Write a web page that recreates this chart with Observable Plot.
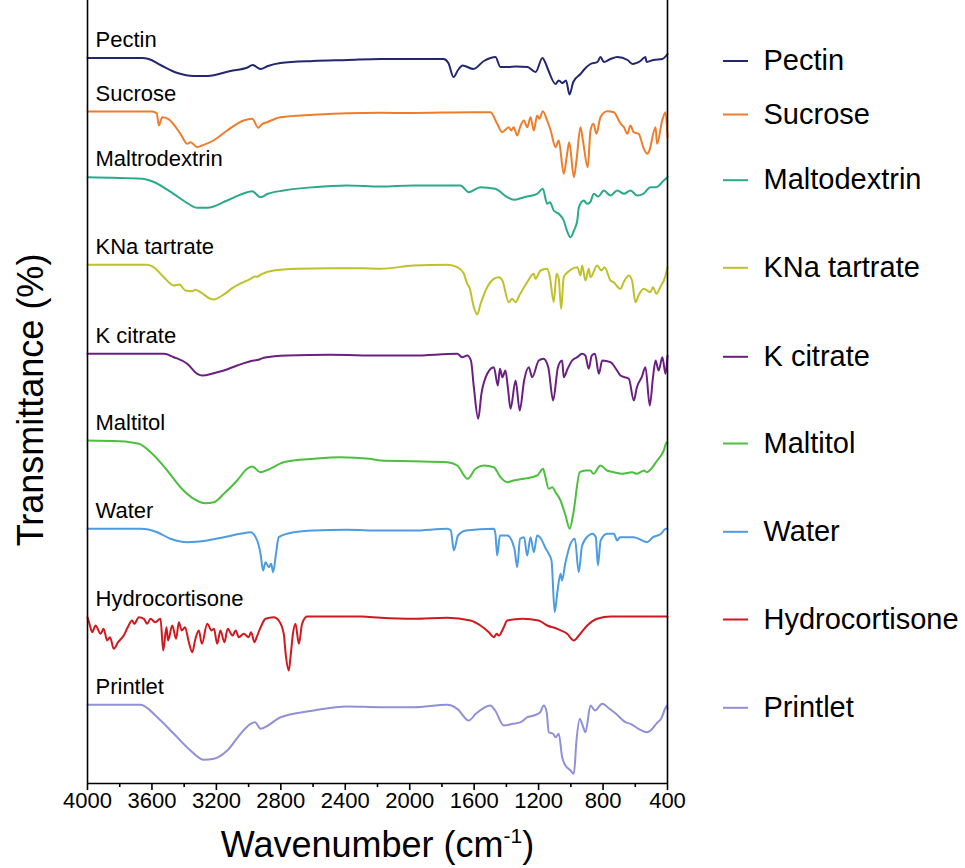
<!DOCTYPE html>
<html>
<head>
<meta charset="utf-8">
<script src="https://cdn.jsdelivr.net/npm/d3@7"></script>
<script src="https://cdn.jsdelivr.net/npm/@observablehq/plot@0.6"></script>
<style>
  html, body { margin: 0; padding: 0; background: #fff; }
  #chart { width: 965px; height: 868px; }
</style>
</head>
<body>
<div id="chart"></div>
<script>
// ---- DATA ----
const seriesNames = ["Pectin", "Sucrose", "Maltodextrin", "KNa tartrate", "K citrate", "Maltitol", "Water", "Hydrocortisone", "Printlet"];
const panelLabels = ["Pectin", "Sucrose", "Maltrodextrin", "KNa tartrate", "K citrate", "Maltitol", "Water", "Hydrocortisone", "Printlet"];
// vertical offset of each stacked spectrum (arbitrary transmittance units)
const offsets = [725.5, 672, 606.3, 518.7, 429.7, 343, 254.7, 167, 78.7];

// [wavenumber (cm-1), relative transmittance]
const pectin = [[4000,0],[3660,0],[3620,-1],[3547,-7],[3441,-15],[3342,-18],[3255,-18],[3112,-13],[3007,-9.5],[2976,-7],[2926,-11],[2880,-8],[2802,-5],[2600,-3],[2386,-2],[2181,-1],[1790,-1],[1760,-5],[1728,-19],[1700,-12],[1672,-7.5],[1604,-11],[1540,-3],[1499,0],[1468,1],[1437,-9],[1393,-9],[1340,-8.5],[1269,-9],[1219,-14],[1176,0],[1160,-4],[1139,-12.5],[1095,-26],[1075,-22.5],[1052,-25],[1030,-22.5],[1008,-36.5],[985,-24],[940,-16],[920,-12],[878,-6],[835,-4],[816,1],[795,-4],[754,-1],[711,1],[648,-2],[617,-6],[568,-3],[537,1],[530,-4],[487,-2],[432,-1],[400,4]];
const sucrose = [[4000,0],[3598,0],[3570,-2],[3557,-14],[3536,-5.7],[3500,-7.3],[3423,-22.3],[3381,-32.3],[3360,-30.7],[3319,-35.7],[3290,-34],[3218,-29],[3133,-19],[3031,-9],[2978,-7.3],[2939,-16.3],[2920,-13],[2885,-10.7],[2802,-5.7],[2597,-3.3],[2388,-1.7],[2181,-1.3],[2000,-1.5],[1600,-0.7],[1499,-0.7],[1457,-12.3],[1426,-20.7],[1385,-15.7],[1370,-19],[1355,-15.7],[1333,-24],[1315,-15.7],[1292,-9],[1270,-15.7],[1250,-5.7],[1230,-19],[1209,-4],[1195,-7.3],[1174,0.3],[1147,-9],[1125,-19],[1095,-35.7],[1075,-29],[1044,-62.3],[1023,-42.3],[1010,-30.7],[981,-65.7],[965,-49],[940,-15.7],[925,-29],[895,-55.7],[878,-19],[860,-12.3],[841,-22.3],[816,-5.7],[774,0.3],[733,-0.7],[702,-9],[690,-12.3],[670,-15.7],[650,-22.3],[630,-14],[610,-20.7],[579,-22.3],[547,-37.3],[526,-42.3],[515,-40],[474,-15.7],[465,-32.3],[433,-9],[412,-0.7],[400,-25.7]];
const maltodextrin = [[4000,0],[3660,-1.6],[3600,-4],[3466,-16.6],[3380,-26],[3319,-30.6],[3257,-30.6],[3133,-23.3],[3009,-15],[2978,-14],[2926,-20],[2880,-16.6],[2782,-13.3],[2597,-10],[2388,-8.3],[2181,-9.3],[1976,-8.3],[1685,-8.3],[1633,-15],[1561,-10],[1470,-11.6],[1395,-20],[1354,-22.6],[1290,-20],[1209,-16.6],[1174,-11.6],[1147,-26.6],[1130,-25],[1106,-33.3],[1075,-36.6],[1044,-43.3],[1025,-53],[1002,-60],[980,-53],[960,-43.3],[950,-30],[919,-23.3],[900,-26.6],[880,-25],[857,-16.6],[830,-19.3],[795,-13.3],[754,-18.3],[712,-13.3],[670,-16.6],[630,-13.3],[588,-18.3],[550,-16.6],[506,-10],[470,-10],[423,-3.3],[400,0]];
const knaTartrate = [[4000,0],[3629,0],[3590,-2.4],[3526,-12.4],[3464,-20.7],[3430,-19.7],[3392,-25.7],[3350,-26.4],[3330,-25],[3299,-27.4],[3237,-34],[3216,-34.7],[3164,-30.7],[3092,-22.4],[2988,-14],[2960,-11.7],[2950,-12],[2916,-9],[2844,-5.7],[2698,-4],[2492,-3.4],[2300,-3.4],[2181,-4],[1976,-0.7],[1767,0],[1705,-2.4],[1664,-9],[1643,-19],[1630,-22.4],[1602,-42.4],[1581,-49.7],[1560,-39],[1519,-22.4],[1478,-14],[1447,-12.4],[1425,-15.7],[1385,-37.4],[1365,-34],[1343,-37.4],[1320,-30.7],[1271,-17.4],[1230,-9],[1220,-14],[1188,-5.7],[1147,-4],[1130,-12.4],[1106,-37.4],[1089,-9],[1075,-14],[1060,-44],[1044,-12.4],[1020,-7.4],[992,-4],[960,-2.4],[940,-10.7],[930,-0.7],[909,-15.7],[889,-4],[878,-12.4],[837,-0.7],[810,-5.7],[790,-2.4],[754,-15.7],[735,-17.4],[692,-24],[672,-17.4],[640,-10.7],[620,-15.7],[599,-37.4],[580,-30.7],[547,-24],[506,-27.4],[490,-22.4],[469,-29],[445,-22.4],[412,-10.7],[400,-2.4]];
const kCitrate = [[4000,0],[3526,0],[3464,-3.4],[3381,-10],[3319,-20],[3288,-21.7],[3216,-19.4],[3154,-16.7],[3071,-11.7],[2968,-6.7],[2940,-6],[2906,-4],[2761,-1.7],[2492,-1],[2181,-1.7],[1976,-1.7],[1705,0],[1674,-3.4],[1643,-1.7],[1620,-6.7],[1602,-33.4],[1575,-65],[1555,-40],[1519,-20],[1478,-13.4],[1453,-31.7],[1440,-15],[1425,-23.4],[1406,-16.7],[1390,-35],[1374,-55],[1343,-26.7],[1317,-56.7],[1290,-26.7],[1261,-13.4],[1240,-23.4],[1199,-6.7],[1170,-5],[1140,-13.4],[1110,-46.7],[1080,-13.4],[1054,-6.7],[1044,-23.4],[1020,-15],[992,-6.7],[960,-3.4],[930,0],[910,-1.7],[889,-15],[870,-1.7],[850,0],[826,-20],[805,-6.7],[754,-8.4],[720,-15],[692,-21.7],[640,-25],[609,-46.7],[590,-33.4],[560,-23.4],[537,-13.4],[510,-51.7],[490,-23.4],[474,-6.7],[455,-16.7],[432,-3.4],[412,-20],[400,-1.7]];
const maltitol = [[4000,0],[3800,-0.7],[3681,-3.3],[3598,-13.3],[3505,-30],[3423,-46.7],[3340,-58.3],[3268,-62.7],[3216,-61.7],[3154,-53.3],[3071,-40],[3009,-28.3],[2978,-26],[2926,-31.7],[2880,-29.3],[2782,-21.7],[2595,-18.3],[2430,-16.7],[2250,-18.3],[2181,-20],[1976,-20.7],[1767,-21.7],[1705,-25],[1640,-38.3],[1592,-28.3],[1540,-25],[1478,-26.7],[1437,-36.7],[1395,-41.7],[1355,-40],[1292,-38.3],[1209,-35],[1172,-28.3],[1160,-35],[1137,-48.3],[1115,-46.7],[1095,-51.7],[1064,-60],[1033,-75],[1007,-88.3],[985,-73.3],[944,-31.7],[910,-30],[878,-30],[860,-33.3],[816,-25],[775,-30],[733,-31.7],[680,-33.3],[620,-31.7],[590,-33.3],[545,-30],[530,-31.7],[464,-20],[423,-10],[405,-1.7],[400,-2.7]];
const water = [[4000,0],[3671,0],[3567,-3.4],[3485,-10],[3381,-13.4],[3257,-11.7],[3154,-8.4],[3050,-5],[2988,-3.4],[2947,-11.7],[2926,-25],[2910,-41.7],[2895,-33.4],[2875,-38.4],[2860,-35],[2848,-43.4],[2830,-25],[2813,-8.4],[2719,-3.4],[2595,-1.7],[2388,-1],[2181,-1.7],[1976,-1.7],[1767,0],[1745,-1.7],[1726,-21.7],[1700,-6.7],[1650,-1.7],[1478,0],[1468,-5],[1457,-26.7],[1440,-6.7],[1395,-6.7],[1350,-20],[1333,-38.4],[1315,-10],[1290,-8.4],[1271,-26.7],[1250,-8.4],[1230,-23.4],[1209,-6.7],[1185,-10],[1160,-18.4],[1137,-25],[1120,-31.7],[1100,-83.4],[1085,-65],[1064,-45],[1055,-51.7],[1035,-35],[1002,-15],[975,-10],[951,-43.4],[930,-16.7],[889,-6.7],[865,-5],[845,-8.4],[832,-36.7],[815,-11.7],[775,-5],[733,-5],[712,-11.7],[695,-8.4],[610,-8.4],[526,-13.4],[490,-8.4],[440,-5],[410,0],[400,0]];
const hydrocortisone = [[4000,-0.7],[3985,-9],[3971,-15.7],[3950,-9],[3919,-17.3],[3900,-12.3],[3878,-24],[3860,-20.7],[3837,-32.3],[3810,-25.7],[3775,-19],[3750,-10.7],[3723,-4],[3710,-7.3],[3681,-0.7],[3650,-2.3],[3630,-7.3],[3609,-2.3],[3580,-5.7],[3547,-2.3],[3530,-34],[3510,-10.7],[3500,-24],[3474,-9],[3450,-22.3],[3433,-5.7],[3415,-14],[3395,-10.7],[3371,-25.7],[3350,-35.7],[3330,-22.3],[3309,-14],[3290,-27.3],[3257,-7.3],[3230,-14],[3215,-12.3],[3195,-27.3],[3175,-14],[3150,-25.7],[3130,-12.3],[3100,-19],[3080,-14],[3061,-20.7],[3030,-17.3],[3000,-20.7],[2985,-15.7],[2963,-25.7],[2950,-20.7],[2925,-10.7],[2895,-2.3],[2844,-0.7],[2813,-4],[2782,-17.3],[2770,-37.3],[2751,-54],[2740,-40.7],[2725,-17.3],[2709,-7.3],[2688,-27.3],[2668,-7.3],[2637,0],[2300,0],[2181,-1.3],[1976,-2.3],[1767,-1.3],[1623,-4],[1561,-9],[1509,-15.7],[1478,-20.7],[1460,-17.3],[1447,-19],[1416,-10.7],[1395,-4],[1300,-2.3],[1200,-4],[1147,-9],[1085,-12.3],[1023,-17.3],[981,-24],[950,-19],[898,-9],[837,-2.3],[750,0],[400,0]];
const printlet = [[4000,0],[3671,0],[3567,-12.4],[3464,-29],[3361,-45.7],[3278,-55],[3216,-54],[3133,-45.7],[3050,-29],[2988,-19],[2960,-17.4],[2926,-24],[2880,-20.7],[2802,-12.4],[2595,-5.7],[2388,-1.7],[2181,-2.4],[1976,-2.4],[1767,0],[1705,-4],[1633,-15.7],[1590,-9],[1499,-0.7],[1470,-5.7],[1416,-20.7],[1360,-19],[1312,-17.4],[1270,-12.4],[1230,-10.7],[1190,-7.4],[1168,-0.7],[1150,-7.4],[1137,-27.4],[1110,-29],[1095,-32.4],[1075,-29],[1054,-52.4],[1033,-60.7],[1002,-65.7],[981,-69],[965,-35.7],[944,-14],[930,-19],[909,-27.4],[878,-0.7],[850,-5.7],[805,1],[760,-4],[720,-9],[661,-17.4],[630,-19],[579,-24],[526,-27.4],[505,-25.7],[470,-19],[440,-14],[402,-0.7],[400,-4]];

const xTicks = [4000, 3600, 3200, 2800, 2400, 2000, 1600, 1200, 800, 400];
const xMinorTicks = [3800, 3400, 3000, 2600, 2200, 1800, 1400, 1000, 600];

// ---- STYLE ----
const colors = ["#22276f", "#ee7d2b", "#2aa98b", "#c0c02a", "#6a2080", "#4cbf3f", "#4d9be0", "#d0191e", "#9090d8"];
const spectra = [pectin, sucrose, maltodextrin, knaTartrate, kCitrate, maltitol, water, hydrocortisone, printlet];

const rows = [];
spectra.forEach((s, i) => s.forEach(([w, t]) => rows.push({series: seriesNames[i], w, y: offsets[i] + t})));
const items = seriesNames.map((name, i) => ({name, label: panelLabels[i], offset: offsets[i]}));

const W = 965, H = 868;
const mL = 87, mR = 298, mT = 0, mB = 85;
const unitsPerPx = (4000 - 400) / (W - mL - mR);
const FONT = "'Liberation Sans', Arial, Helvetica, sans-serif";

const chart = Plot.plot({
  width: W, height: H,
  marginLeft: mL, marginRight: mR, marginTop: mT, marginBottom: mB,
  style: {fontFamily: FONT, background: "#fff", overflow: "visible", color: "#000"},
  x: {domain: [4000, 400], label: null},
  y: {domain: [0, H - mT - mB], axis: null},
  color: {domain: seriesNames, range: colors},
  marks: [
    Plot.line(rows, {x: "w", y: "y", z: "series", stroke: "series", strokeWidth: 2, curve: "monotone-x"}),
    Plot.ruleX([4000, 400], {stroke: "#000", strokeWidth: 1.6}),
    Plot.ruleY([0], {stroke: "#000", strokeWidth: 1.6}),
    Plot.axisX({ticks: xTicks, tickSize: 7, tickPadding: 2, fontSize: 22, strokeWidth: 1.6, tickFormat: d => String(d), label: null}),
    Plot.axisX({ticks: xMinorTicks, tickSize: 4, strokeWidth: 1.6, tickFormat: () => "", label: null}),
    Plot.text(items, {x: 4000, y: "offset", text: "label", dx: 8, dy: -11, textAnchor: "start", lineAnchor: "bottom", fontSize: 22}),
    // legend
    Plot.ruleY(items, {y: "offset", dy: 3, x1: 400 - 56 * unitsPerPx, x2: 400 - 81 * unitsPerPx, stroke: "name", strokeWidth: 2}),
    Plot.text(items, {x: 400, y: "offset", dy: 3, dx: 96, text: "name", textAnchor: "start", lineAnchor: "middle", fontSize: 29}),
    // axis titles
    Plot.text(["Transmittance (%)"], {frameAnchor: "left", text: d => d, rotate: -90, dx: -56, dy: 8, fontSize: 36, textAnchor: "middle", lineAnchor: "middle"}),
    Plot.text(["Wavenumber (cm-1)"], {frameAnchor: "bottom", text: d => d, dy: 62, fontSize: 36, textAnchor: "middle", lineAnchor: "middle"})
  ]
});

// superscript for the unit
const ns = "http://www.w3.org/2000/svg";
chart.querySelectorAll("text").forEach(t => {
  if (t.textContent === "Wavenumber (cm-1)") {
    t.textContent = "";
    const a = document.createElementNS(ns, "tspan"); a.textContent = "Wavenumber (cm";
    const b = document.createElementNS(ns, "tspan"); b.textContent = "-1"; b.setAttribute("font-size", "21"); b.setAttribute("dy", "-14");
    const c = document.createElementNS(ns, "tspan"); c.textContent = ")"; c.setAttribute("dy", "14");
    t.append(a, b, c);
  }
});
document.getElementById("chart").appendChild(chart);
</script>
</body>
</html>
